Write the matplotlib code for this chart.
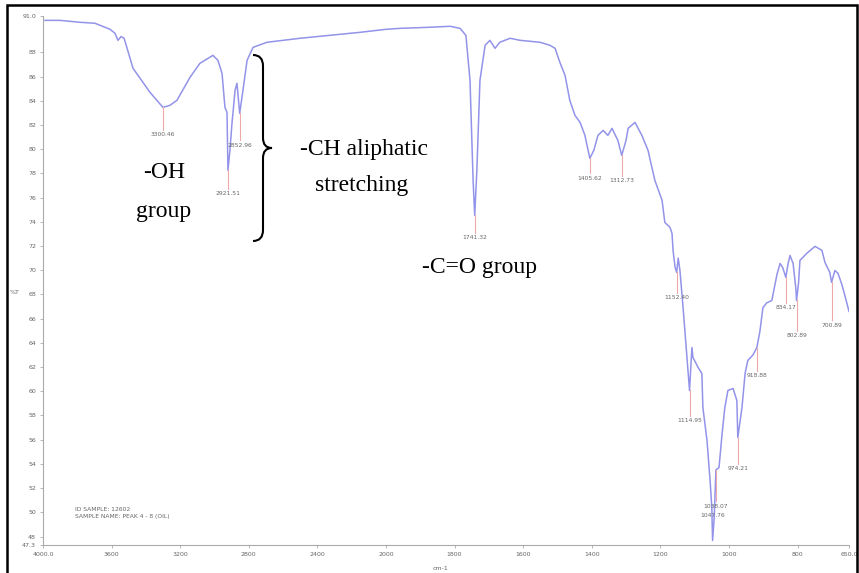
import numpy as np
import matplotlib.pyplot as plt
from matplotlib.path import Path
from matplotlib.patches import PathPatch, Rectangle

# FTIR spectrum, %T against wavenumber (cm-1)
wavenumber = [
    3988, 3901, 3784, 3697, 3640, 3609, 3580, 3563, 3545, 3527, 3475, 3376,
    3300.46, 3260, 3219, 3143, 3085, 3009, 2980, 2956, 2939, 2927, 2921.51,
    2910, 2898, 2880, 2869, 2852.96, 2834, 2810, 2775, 2694, 2501, 2327, 2152,
    2000, 1959, 1872, 1813, 1784,
    1767, 1755, 1746, 1741.32, 1735, 1726, 1711, 1697, 1682, 1668, 1638, 1609,
    1551, 1522, 1507, 1493, 1478, 1464, 1449, 1434, 1420, 1405.62, 1394, 1382,
    1367, 1353, 1341, 1324, 1312.73, 1300, 1294, 1274, 1254, 1236, 1216, 1195,
    1187, 1172, 1166, 1163, 1157, 1152.40, 1148, 1143, 1134, 1120, 1114.95,
    1108, 1105, 1090, 1079, 1076, 1064, 1055, 1050, 1047.76, 1043, 1038.07,
    1029, 1020, 1012, 1003, 988, 977, 974.21, 962, 953, 945, 930, 918.88,
    910, 901, 890, 875, 860, 851, 843, 837, 834.17, 828, 822, 813, 805,
    802.89, 797, 793, 773, 749, 729, 720, 706, 700.89, 691, 682, 671, 662,
    656, 650,
]
transmittance = [
    90.64, 90.64, 90.48, 90.40, 90.07, 89.90, 89.57, 88.99, 89.30, 89.16,
    86.68, 84.69, 83.45, 83.62, 84.03, 85.93, 87.09, 87.75, 87.34, 86.26,
    83.45, 83.04, 78.25, 79.90, 82.13, 84.86, 85.44, 82.96, 84.86, 87.34,
    88.41, 88.83, 89.16, 89.40, 89.65, 89.90, 89.98, 90.07, 90.15, 89.98,
    89.40, 85.69, 77.42,
    74.53, 78.25, 85.69, 88.58, 88.99, 88.33, 88.83, 89.16, 88.99, 88.83,
    88.58, 88.33, 87.17, 86.10, 84.03, 82.79, 82.21, 81.14, 79.24, 79.90,
    81.14, 81.55, 81.14, 81.72, 80.73, 79.49, 80.73, 81.72, 82.21, 81.14,
    79.90, 77.42, 75.77, 73.95, 73.54, 73.04, 71.64, 70.23, 69.82, 71.00,
    70.00, 67.00, 61.97, 60.07, 63.62, 62.79, 61.97, 61.47, 58.66, 55.93,
    52.63, 50.40, 47.67, 49.57, 53.50, 53.70, 56.50, 58.66, 60.07, 60.23,
    59.24, 56.18, 58.66, 61.47, 62.55, 63.00, 63.60, 64.90, 66.90, 67.30,
    67.50, 69.65, 70.56, 70.20, 69.65, 69.40, 70.50, 71.22, 70.56, 68.50,
    67.50, 69.00, 70.81, 71.40, 71.97, 71.64, 70.64, 69.82, 69.00, 69.98,
    69.74, 68.83, 67.91, 67.26, 66.60,
]

# picked peaks
peak_wn = [3300.46, 2921.51, 2852.96, 1741.32, 1405.62, 1312.73, 1152.40,
           1114.95, 1038.07, 1047.76, 974.21, 918.88, 834.17, 802.89, 700.89]
peak_t = [83.45, 78.25, 82.96, 74.53, 79.24, 79.49, 69.82,
          60.07, 53.50, 47.67, 56.18, 63.60, 69.40, 67.50, 69.00]
# distance from peak to its label (in %T), negative = label above
label_dy = [2.23, 1.90, 2.64, 1.82, 1.65, 2.07, 2.07,
            2.48, 2.98, -2.07, 2.56, 2.31, 2.48, 2.89, 3.55]

x_ticks = [4000, 3600, 3200, 2800, 2400, 2000, 1800, 1600, 1400, 1200, 1000, 800, 650]
x_labels = ['4000.0', '3600', '3200', '2800', '2400', '2000', '1800', '1600',
            '1400', '1200', '1000', '800', '650.0']
y_ticks = list(range(48, 90, 2))
y_min, y_max = 47.3, 91.0


def fwd(w):
    w = np.asarray(w, dtype=float)
    return np.where(w >= 2000, w, 2 * w - 2000)


def inv(u):
    u = np.asarray(u, dtype=float)
    return np.where(u >= 2000, u, (u + 2000) / 2)


W, H = 859, 573
fig = plt.figure(figsize=(W / 100, H / 100), dpi=100)
ax = fig.add_axes([43 / W, 1 - 545 / H, (849 - 43) / W, (545 - 16) / H])

ax.set_xscale('function', functions=(fwd, inv))
ax.plot(wavenumber, transmittance, color='#9393ea', lw=1.1)

for wn, t, dy in zip(peak_wn, peak_t, label_dy):
    if dy > 0:
        ax.plot([wn, wn], [t, t - dy + 0.4], color='#eeaaaa', lw=0.8)
    ax.text(wn, t - dy, f'{wn:.2f}', ha='center', va='center',
            fontsize=4.3, color='#666666')

ax.set_xlim(4000, 650)
ax.set_ylim(y_min, y_max)
ax.set_xticks(x_ticks)
ax.set_xticklabels(x_labels)
ax.minorticks_off()
ax.set_yticks([y_min] + y_ticks + [y_max])
ax.set_yticklabels([f'{y_min:.1f}'] + [str(v) for v in y_ticks] + [f'{y_max:.1f}'])
ax.tick_params(labelsize=4.5, labelcolor='#666666', color='#aaaaaa',
               length=2, width=0.6, pad=3)
for s in ['top', 'right']:
    ax.spines[s].set_visible(False)
for s in ['left', 'bottom']:
    ax.spines[s].set_color('#aaaaaa')
    ax.spines[s].set_linewidth(0.8)
ax.patch.set_alpha(0)

fig.text(15 / W, 1 - 293 / H, '%T', fontsize=4.5, color='#666666',
         ha='center', va='center')
fig.text(440 / W, 1 - 568 / H, 'cm-1', fontsize=4.5, color='#666666',
         ha='center', va='center')
fig.text(75 / W, 1 - 513 / H, 'ID SAMPLE: 12602\nSAMPLE NAME: PEAK 4 - 8 (OIL)',
         fontsize=4.3, color='#666666', ha='left', va='center', linespacing=1.3)

serif = {'family': 'Liberation Serif', 'size': 17, 'color': 'black'}
fig.text(164 / W, 1 - 173 / H, '-OH', ha='center', va='center', fontdict=serif)
fig.text(164 / W, 1 - 212 / H, 'group', ha='center', va='center', fontdict=serif)
fig.text(364 / W, 1 - 150 / H, '-CH aliphatic', ha='center', va='center', fontdict=serif)
fig.text(362 / W, 1 - 186 / H, 'stretching', ha='center', va='center', fontdict=serif)
fig.text(479 / W, 1 - 268 / H, '-C=O group', ha='center', va='center', fontdict=serif)


# curly brace beside the CH bands
def px(x, y):
    return (x / W, 1 - y / H)


brace = [px(253, 55), px(263, 55), px(263, 66),
         px(263, 138),
         px(263, 148), px(272, 148),
         px(263, 148), px(263, 158),
         px(263, 230),
         px(263, 241), px(253, 241)]
codes = [Path.MOVETO, Path.CURVE3, Path.CURVE3,
         Path.LINETO,
         Path.CURVE3, Path.CURVE3,
         Path.CURVE3, Path.CURVE3,
         Path.LINETO,
         Path.CURVE3, Path.CURVE3]
fig.add_artist(PathPatch(Path(brace, codes), transform=fig.transFigure,
                         fill=False, lw=1.5, color='black'))

# outer frame
fig.add_artist(Rectangle(px(7, 600), (857 - 7) / W, (600 - 5) / H,
                         transform=fig.transFigure, fill=False,
                         lw=1.8, edgecolor='black'))

fig.savefig('out.png', dpi=100)
